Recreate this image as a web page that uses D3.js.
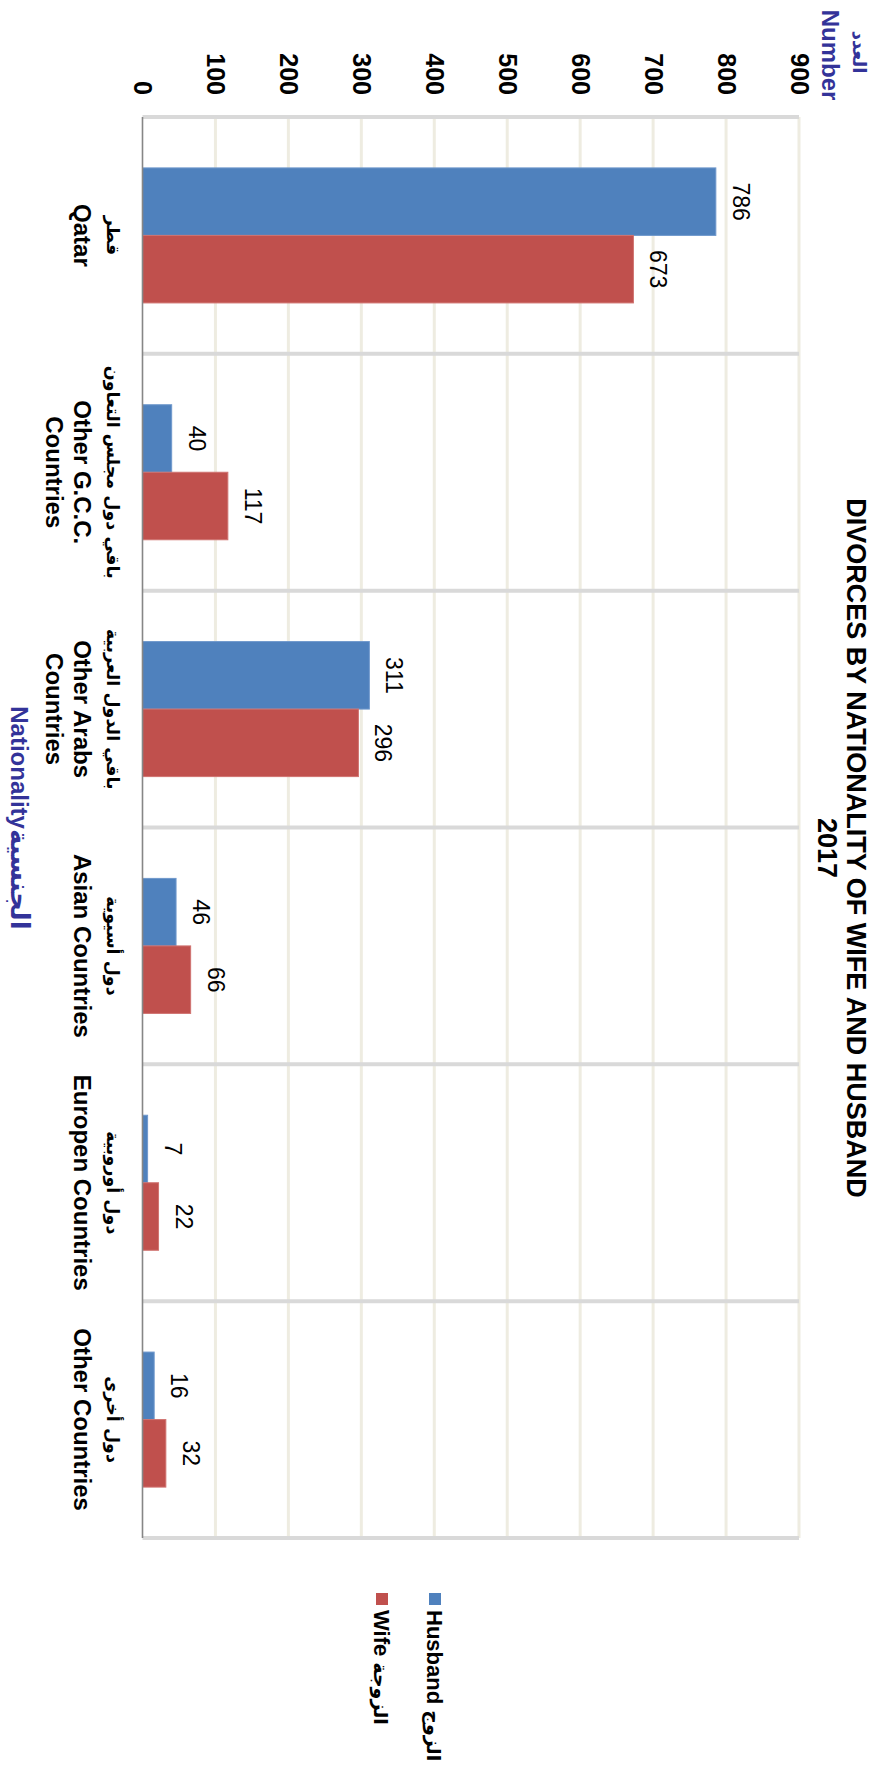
<!DOCTYPE html>
<html><head><meta charset="utf-8">
<script src="https://cdn.jsdelivr.net/npm/d3@7"></script>
<style>
html,body{margin:0;padding:0;background:#fff;}
svg{display:block;}
text{font-family:"Liberation Sans",Arial,"DejaVu Sans",sans-serif;}
.ar{font-family:"DejaVu Sans",sans-serif;}
</style></head>
<body>
<svg id="chart" width="874" height="1771"></svg>
<script>
// ---- data ----
const categoriesEn = [["Qatar"], ["Other G.C.C.", "Countries"], ["Other Arabs", "Countries"], ["Asian Countries"], ["Europen Countries"], ["Other Countries"]];
const categoriesAr = ["قطر", "باقي دول مجلس التعاون", "باقي الدول العربية", "دول أسيوية", "دول أوروبية", "دول أخرى"];
const seriesNames = ["Husband", "Wife"];
const seriesNamesAr = ["الزوج", "الزوجة"];
const husband = [786, 40, 311, 46, 7, 16];
const wife = [673, 117, 296, 66, 22, 32];
const tickValues = [0, 100, 200, 300, 400, 500, 600, 700, 800, 900];
const titleLines = ["DIVORCES BY NATIONALITY OF WIFE AND HUSBAND", "2017"];
const valueTitle = ["Number", "العدد"];
const catTitle = ["Nationality", "الجنسية"];

const colors = ["#4F81BD", "#C0504D"];
const strokes = ["#6f98cc", "#d07370"];

const svg = d3.select("#chart");
const catIdx = d3.range(categoriesEn.length);

// value scale runs left->right (chart is rotated 90deg clockwise)
const x = d3.scaleLinear().domain([0, 900]).range([142.5, 799]);
// category scale runs top->bottom
const y = d3.scaleBand().domain(catIdx).range([117, 1538]).padding(0);
const ys = d3.scaleBand().domain([0, 1]).range([0, y.bandwidth()]).paddingInner(0).paddingOuter(0.754);

const plotTop = 117, plotBottom = 1538;

// value gridlines
svg.append("g").selectAll("line").data(tickValues.filter(d => d > 0)).join("line")
  .attr("x1", d => x(d)).attr("x2", d => x(d))
  .attr("y1", plotTop).attr("y2", plotBottom)
  .attr("stroke", "#EEECE1").attr("stroke-width", 3);

// category dividers
const bounds = catIdx.map(i => y(i)).concat([y(catIdx.length - 1) + y.bandwidth()]);
svg.append("g").selectAll("line").data(bounds).join("line")
  .attr("x1", x(0)).attr("x2", x(900))
  .attr("y1", d => d).attr("y2", d => d)
  .attr("stroke", "#D9D9D9").attr("stroke-width", 4);

// bars
const series = [husband, wife];
series.forEach((vals, s) => {
  svg.append("g").selectAll("rect").data(catIdx).join("rect")
    .attr("x", x(0))
    .attr("y", i => y(i) + ys(s))
    .attr("width", i => x(vals[i]) - x(0))
    .attr("height", ys.bandwidth())
    .attr("fill", colors[s])
    .attr("stroke", strokes[s]).attr("stroke-width", 1);
  // data labels
  svg.append("g").selectAll("text").data(catIdx).join("text")
    .attr("transform", i => `translate(${x(vals[i]) + 17},${y(i) + ys(s) + ys.bandwidth() / 2}) rotate(90)`)
    .attr("text-anchor", "middle")
    .attr("font-size", 23)
    .attr("fill", "#000")
    .text(i => vals[i]);
});

// value axis (top)
const xAxis = d3.axisTop(x).tickValues(tickValues).tickSize(0).tickFormat(d3.format("d"));
const gx = svg.append("g").attr("transform", `translate(0,${plotTop})`).call(xAxis);
gx.select(".domain").remove();
gx.selectAll("text")
  .attr("x", 0).attr("y", 0).attr("dy", "0.35em")
  .attr("transform", "translate(0,-22) rotate(90)")
  .attr("text-anchor", "end")
  .attr("font-size", 25).attr("font-weight", "bold").attr("fill", "#000")
  .style("font-family", '"Liberation Sans",Arial,sans-serif');

// category axis (left)
const yAxis = d3.axisLeft(y).tickSize(0).tickFormat("");
const gy = svg.append("g").attr("transform", `translate(${x(0)},0)`).call(yAxis);
gy.select(".domain").attr("stroke", "#868686").attr("stroke-width", 1.6)
  .attr("d", `M0,${plotTop}V${plotBottom}`);
gy.selectAll(".tick").each(function(i) {
  const g = d3.select(this);
  g.select("text").remove();
  g.append("text").attr("class", "ar")
    .attr("transform", `translate(${107 - x(0)},0) rotate(90)`)
    .attr("text-anchor", "middle").attr("font-size", 17.5).attr("font-weight", "bold").attr("fill", "#000")
    .text(categoriesAr[i]);
  categoriesEn[i].forEach((line, k) => {
    g.append("text")
      .attr("transform", `translate(${74 - 28 * k - x(0)},0) rotate(90)`)
      .attr("text-anchor", "middle").attr("font-size", 24).attr("font-weight", "bold").attr("fill", "#000")
      .text(line);
  });
});

// title
const titleY = 848;
titleLines.forEach((t, k) => {
  svg.append("text")
    .attr("transform", `translate(${847 - 29 * k},${titleY}) rotate(90)`)
    .attr("text-anchor", "middle").attr("font-size", 27).attr("font-weight", "bold").attr("fill", "#000")
    .text(t);
});

// value axis title
svg.append("text")
  .attr("transform", `translate(822,55) rotate(90)`)
  .attr("text-anchor", "middle").attr("font-size", 24).attr("font-weight", "bold").attr("fill", "#333399")
  .text(valueTitle[0]);
svg.append("text").attr("class", "ar")
  .attr("transform", `translate(853,52) rotate(90)`)
  .attr("text-anchor", "middle").attr("font-size", 18).attr("font-weight", "bold").attr("fill", "#333399")
  .text(valueTitle[1]);

// category axis title
const ct = svg.append("text")
  .attr("transform", `translate(11,818) rotate(90)`)
  .attr("text-anchor", "middle").attr("font-size", 24).attr("font-weight", "bold").attr("fill", "#333399");
ct.append("tspan").text(catTitle[0]);
ct.append("tspan").attr("class", "ar").style("font-family", '"DejaVu Sans",sans-serif').attr("font-size", 26).text(catTitle[1]);

// legend
const legX = [435, 382];
seriesNames.forEach((nm, s) => {
  svg.append("rect")
    .attr("x", legX[s] - 6).attr("y", 1593).attr("width", 12).attr("height", 12)
    .attr("fill", colors[s]);
  const t = svg.append("text")
    .attr("transform", `translate(${legX[s] - 8},1610) rotate(90)`)
    .attr("text-anchor", "start").attr("font-size", 22).attr("font-weight", "bold").attr("fill", "#000");
  t.append("tspan").text(nm + " ");
  t.append("tspan").style("font-family", '"DejaVu Sans",sans-serif').attr("font-size", 19).text(seriesNamesAr[s]);
});
</script>
</body></html>
